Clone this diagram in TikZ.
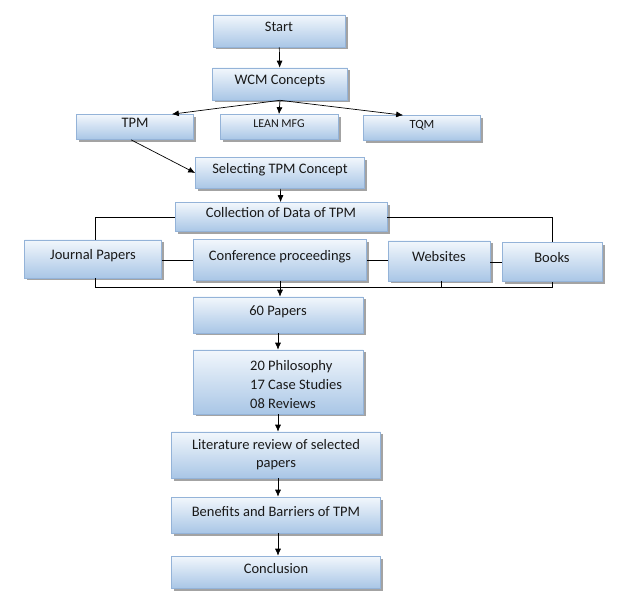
\documentclass[tikz,border=0pt]{standalone}
\usepackage{fontspec}
\setmainfont{Carlito}
\usepackage{tikz}
\usetikzlibrary{positioning,calc,arrows.meta,shadows}

\definecolor{boxtop}{HTML}{F2F7FC}
\definecolor{boxbot}{HTML}{A9C6E6}
\definecolor{boxline}{HTML}{94B3D8}

\tikzset{
  stepbox/.style={rectangle, draw=boxline, line width=0.6pt, top color=boxtop, bottom color=boxbot,
    drop shadow={shadow xshift=2.5pt, shadow yshift=-2.5pt, fill=black!45, opacity=0.8},
    inner sep=0pt, font=\fontsize{14.5}{16}\selectfont, text=black!90,
    text height=10pt, text depth=8pt},
  arr/.style={-{Latex[length=7pt,width=6pt]}, line width=0.7pt},
  link/.style={line width=0.7pt}
}

\begin{document}
\begin{tikzpicture}[x=1pt,y=-1pt]
        \useasboundingbox (0,0) rectangle (622,596);

        \node[stepbox, minimum width=132, minimum height=32] (start) at (279,31) {Start};
        \node[stepbox, minimum width=135, minimum height=32] (wcm) at (280,84) {WCM Concepts};
        \node[stepbox, minimum width=117, minimum height=25] (tpm) at (135,127) {TPM};
        \node[stepbox, minimum width=118, minimum height=25, font=\fontsize{12}{14}\selectfont] (lean) at (279,127) {LEAN MFG};
        \node[stepbox, minimum width=117, minimum height=25, font=\fontsize{12.5}{14}\selectfont] (tqm) at (422,128) {TQM};
        \node[stepbox, minimum width=169, minimum height=31] (select) at (280,173) {Selecting TPM Concept};
        \node[stepbox, minimum width=212, minimum height=29] (collect) at (281,217) {Collection of Data of TPM};

        \node[stepbox, minimum width=137, minimum height=38] (journal) at (93,259) {Journal Papers};
        \node[stepbox, minimum width=173, minimum height=41] (conf) at (280,260) {Conference proceedings};
        \node[stepbox, minimum width=102, minimum height=40] (web) at (439,261) {Websites};
        \node[stepbox, minimum width=100, minimum height=39] (books) at (552,262) {Books};

        \node[stepbox, minimum width=170, minimum height=36] (papers) at (278,315) {60 Papers};
        \node[stepbox, minimum width=170, minimum height=64] (split) at (278,382) {};
        \node[anchor=west, align=left, inner sep=0pt, font=\fontsize{14.5}{19}\selectfont, text=black!90] (splittxt) at (250,385)
          {20 Philosophy\\17 Case Studies\\08 Reviews};
        \node[stepbox, minimum width=209, minimum height=46, align=center, text height=, text depth=, font=\fontsize{14.5}{18}\selectfont] (review) at (276,455)
          {Literature review of selected\\papers};
        \node[stepbox, minimum width=209, minimum height=36] (benefit) at (276,515) {Benefits and Barriers of TPM};
        \node[stepbox, minimum width=209, minimum height=32] (concl) at (276,572) {Conclusion};

        % upper part
        \draw[arr] (start) -- (wcm);
        \draw[arr] (wcm.south) -- ([xshift=-22pt]tpm.north east);
        \draw[arr] (wcm.south) -- (lean.north);
        \draw[arr] (wcm.south) -- ([xshift=40pt]tqm.north west);
        \draw[arr] ([xshift=-4pt]tpm.south) -- (select.west);
        \draw[arr] (select) -- (collect);

        % sources
        \coordinate (bus) at (280,287);
        \draw[link] (collect.west) -| ([xshift=2pt]journal.north);
        \draw[link] (collect.east) -| (books.north);
        \draw[link] (journal.east |- conf) -- (conf.west);
        \draw[link] (conf.east) -- (web.west |- conf);
        \draw[link] (web.east |- books) -- (books.west);
        \draw[link] ([xshift=2pt]journal.south) -- ([xshift=2pt]journal.south |- bus) -- (books.south |- bus) -- (books.south);
        \draw[link] ([xshift=2pt]web.south) -- ([xshift=2pt]web.south |- bus);
        \draw[arr] (conf.south) -- (conf.south |- papers.north);

        % lower part
        \draw[arr] (papers) -- (split);
        \draw[arr] (split.south) -- (split.south |- review.north);
        \draw[arr] (split.south |- review.south) -- (split.south |- benefit.north);
        \draw[arr] (split.south |- benefit.south) -- (split.south |- concl.north);
\end{tikzpicture}
\end{document}
